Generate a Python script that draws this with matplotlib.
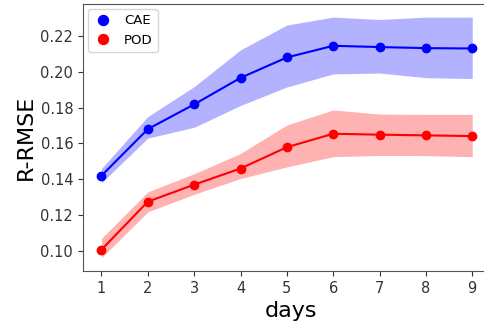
from matplotlib import pyplot as plt

days = [1, 2, 3, 4, 5, 6, 7, 8, 9]

cae_mean = [0.142, 0.168, 0.1818, 0.1966, 0.208, 0.2145, 0.2138, 0.2132, 0.2130]
cae_low = [0.138, 0.163, 0.169, 0.1812, 0.1915, 0.1988, 0.1993, 0.1967, 0.1962]
cae_high = [0.146, 0.175, 0.1917, 0.2122, 0.2261, 0.2305, 0.2292, 0.2305, 0.2305]

pod_mean = [0.1007, 0.1275, 0.1370, 0.1460, 0.1579, 0.1654, 0.1649, 0.1645, 0.1641]
pod_low = [0.0962, 0.1218, 0.1316, 0.1404, 0.1469, 0.1526, 0.1533, 0.1532, 0.1526]
pod_high = [0.1070, 0.1330, 0.1431, 0.1544, 0.1703, 0.1787, 0.1764, 0.1762, 0.1762]

fig = plt.figure(figsize=(4.85, 3.23), dpi=100)
ax = fig.add_axes([0.171, 0.161, 0.86, 0.827])

ax.fill_between(days, cae_low, cae_high, color='b', alpha=0.3, lw=0)
ax.fill_between(days, pod_low, pod_high, color='r', alpha=0.3, lw=0)
ax.plot(days, cae_mean, 'b-', lw=1.5)
ax.plot(days, pod_mean, 'r-', lw=1.5)
ax.plot(days, cae_mean, 'bo', ms=6, label='CAE')
ax.plot(days, pod_mean, 'ro', ms=6, label='POD')

ax.set_xlim(0.6, 9.6)
ax.set_ylim(0.0888, 0.2379)
ax.set_xticks(days)
ax.set_yticks([0.10, 0.12, 0.14, 0.16, 0.18, 0.20, 0.22])
ax.tick_params(labelsize=10.5, colors='#333333')
for s in ax.spines.values():
    s.set_color('#555555')
ax.set_xlabel('days', fontsize=16)
ax.set_ylabel('R-RMSE', fontsize=16, labelpad=3)
ax.legend(loc='upper left', fontsize=9.5, handlelength=1.5, borderaxespad=0.4, markerscale=1.2)

fig.savefig('out.png', dpi=100)
